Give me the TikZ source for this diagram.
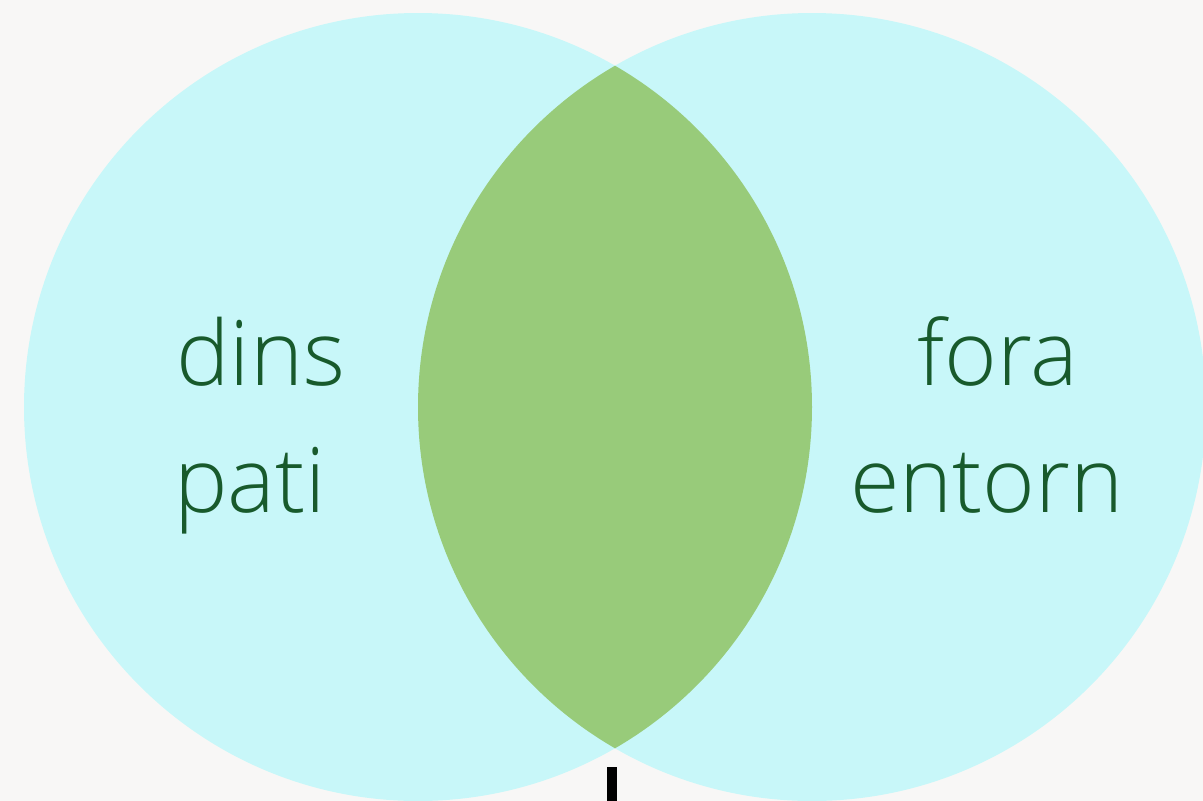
\documentclass[tikz,border=0pt]{standalone}
\usepackage{fontspec}
\setmainfont{Open Sans Light}
\definecolor{bgpaper}{HTML}{F8F7F6}
\definecolor{cyanfill}{HTML}{C8F7F9}
\definecolor{lensfill}{HTML}{98CB7A}
\definecolor{txtgreen}{HTML}{185A2C}
\tikzset{
  lbl/.style={font=\fontsize{90}{90}\selectfont, text=txtgreen, inner sep=0pt},
}
\begin{document}
\begin{tikzpicture}[x=1pt,y=-1pt]
\fill[bgpaper] (0,0) rectangle (1203,801);
\useasboundingbox (0,0) rectangle (1203,801);
\fill[cyanfill] (418,407) circle[radius=394];
\fill[cyanfill] (812,407) circle[radius=394];
\begin{scope}
\clip (418,407) circle[radius=394];
\fill[lensfill] (812,407) circle[radius=394];
\end{scope}
\node[lbl, anchor=base west] (dins) at (176,385) {dins};
\node[lbl, anchor=base west] (pati) at (174,512) {pati};
\node[lbl, anchor=base] (fora) at (998,385) {fora};
\node[lbl, anchor=base] (entorn) at (987,512) {entorn};
\fill[black] (606.5,767) rectangle (616.5,801);
\end{tikzpicture}
\end{document}
